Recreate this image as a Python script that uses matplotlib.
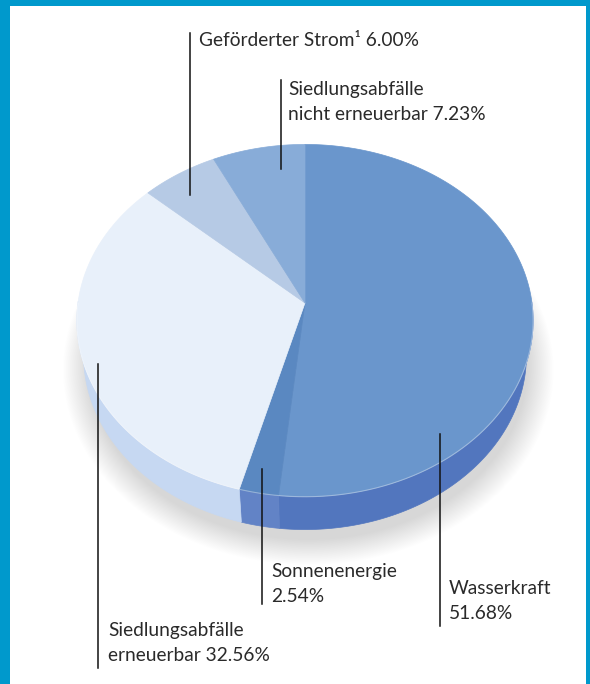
import numpy as np
import matplotlib
matplotlib.use("Agg")
import matplotlib.pyplot as plt
from matplotlib.patches import Polygon, Rectangle

# ---- data ----
labels = ["Wasserkraft", "Sonnenenergie", "Siedlungsabfälle\nerneuerbar",
          "Geförderter Strom\u00b9", "Siedlungsabfälle\nnicht erneuerbar"]
values = [51.68, 2.54, 32.56, 6.00, 7.23]
value_labels = ["51.68%", "2.54%", "32.56%", "6.00%", "7.23%"]
top_colors = ["#6A96CC", "#5A88C1", "#E8F0FA", "#B6CAE5", "#88ACD8"]
side_colors = ["#5276BE", "#6283C6", "#C6D8F2", "#A9BFE2", "#7C9ED2"]

# ---- projection of a tilted disc ----
W, H = 590, 684
X0, Y0 = 305.0, 303.0
elev = np.deg2rad(50.2)
ce, se = np.cos(elev), np.sin(elev)
D = 6.41
F = 227.0 * D
thick = 0.25

def project(x, y, z):
    px, py, pz = 0.0, -D * ce, D * se
    dx, dy, dz = x - px, y - py, z - pz
    depth = dy * ce - dz * se
    sx = dx / depth
    sy = (dy * se + dz * ce) / depth
    return X0 + F * sx, Y0 - F * sy

fig = plt.figure(figsize=(W / 100, H / 100), dpi=100)
ax = fig.add_axes([0, 0, 1, 1])
ax.set_xlim(0, W)
ax.set_ylim(H, 0)
ax.axis("off")

# soft shadow
for k in range(40):
    s = 0.99 + 0.003 * k
    t = np.linspace(0, 2 * np.pi, 300)
    xs, ys = project(s * np.cos(t) + 0.015, s * np.sin(t) - 0.04, -thick - 0.03)
    ax.add_patch(Polygon(np.column_stack([xs, ys]), closed=True,
                         facecolor="#000000", alpha=0.0055, edgecolor="none", zorder=1))

# wedge angles (start at 12 o'clock, clockwise)
fr = np.array(values) / np.sum(values)
starts = np.pi / 2 - 2 * np.pi * np.concatenate([[0], np.cumsum(fr)[:-1]])
ends = starts - 2 * np.pi * fr

# side walls (front half only)
for a0, a1, col in zip(starts, ends, side_colors):
    t = np.linspace(a0, a1, 200)
    tt = t[np.sin(t) < 0.02]
    if len(tt) < 2:
        continue
    xt, yt = project(np.cos(tt), np.sin(tt), 0)
    xb, yb = project(np.cos(tt[::-1]), np.sin(tt[::-1]), -thick)
    ax.add_patch(Polygon(np.column_stack([np.r_[xt, xb], np.r_[yt, yb]]), closed=True,
                         facecolor=col, edgecolor=col, lw=0.5, zorder=2))

# top faces
cx, cy = project(0, 0, 0)
for a0, a1, col in zip(starts, ends, top_colors):
    t = np.linspace(a0, a1, 200)
    xs, ys = project(np.cos(t), np.sin(t), 0)
    ax.add_patch(Polygon(np.column_stack([np.r_[cx, xs], np.r_[cy, ys]]), closed=True,
                         facecolor=col, edgecolor=col, lw=0.5, zorder=3))
# subtle rim highlight
t = np.linspace(np.pi, 2 * np.pi, 300)
xs, ys = project(np.cos(t), np.sin(t), 0)
ax.plot(xs, ys, color="white", alpha=0.35, lw=0.8, zorder=4)

# ---- labels with vertical leader lines ----
font = dict(family=["Lato", "DejaVu Sans"], fontsize=13.8, color="#2a2a2a")
label_cfg = [
    # line x, line y0, line y1, text x, text y (top)
    (440, 434, 626, 449, 580),
    (262, 469, 604, 271, 563),
    (98, 364, 668, 108, 622),
    (190, 33, 195, 199, 32),
    (281, 80, 169, 288, 81),
]
for i, (lx, ly0, ly1, tx, ty) in enumerate(label_cfg):
    ax.plot([lx, lx], [ly0, ly1], color="#111111", lw=1.1, zorder=6)
    if i == 3 or "\n" in labels[i]:
        txt = labels[i] + " " + value_labels[i]
    else:
        txt = labels[i] + "\n" + value_labels[i]
    ax.text(tx, ty, txt, ha="left", va="top", linespacing=1.55, zorder=6, **font)

# ---- blue frame ----
frame = "#0099CC"
ax.add_patch(Rectangle((0, 0), 10, H, facecolor=frame, edgecolor="none", zorder=10))
ax.add_patch(Rectangle((W - 4, 0), 4, H, facecolor=frame, edgecolor="none", zorder=10))
ax.add_patch(Rectangle((0, 0), W, 6, facecolor=frame, edgecolor="none", zorder=10))

fig.savefig("out.png", dpi=100)
